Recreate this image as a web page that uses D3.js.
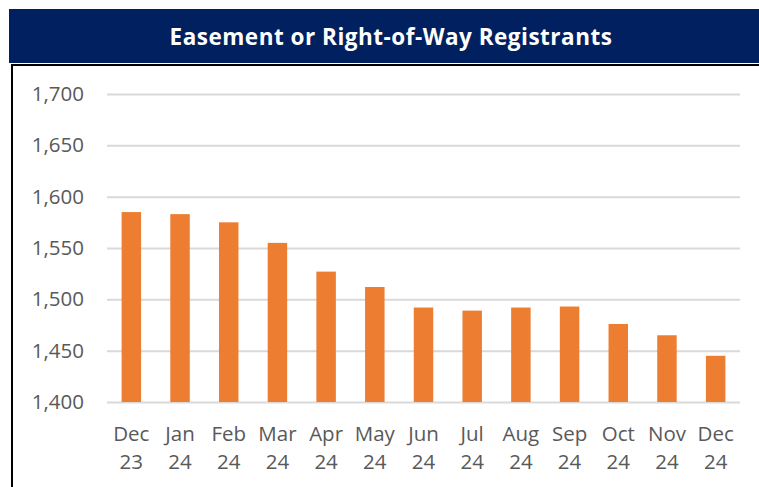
<!DOCTYPE html>
<html>
<head>
<meta charset="utf-8">
<script src="https://cdn.jsdelivr.net/npm/d3@7"></script>
<style>
  body { margin: 0; background: #fff; }
  svg { display: block; }
</style>
</head>
<body>
<div class="graph"></div>
<script>
var title = 'Easement or Right-of-Way Registrants';
var months = ['Dec', 'Jan', 'Feb', 'Mar', 'Apr', 'May', 'Jun', 'Jul', 'Aug', 'Sep', 'Oct', 'Nov', 'Dec'];
var years = ['23', '24', '24', '24', '24', '24', '24', '24', '24', '24', '24', '24', '24'];
var registrants = [1585, 1583, 1575, 1555, 1527, 1512, 1492, 1489, 1492, 1493, 1476, 1465, 1445];
var yTicks = [1400, 1450, 1500, 1550, 1600, 1650, 1700];

var width = 759, height = 487;
var margin = { left: 107, right: 19, top: 94, bottom: 85 };

var svg = d3.select('.graph').append('svg')
    .attr('width', width)
    .attr('height', height);

// header band
svg.append('rect')
    .attr('x', 9).attr('y', 9)
    .attr('width', width - 9).attr('height', 54)
    .attr('fill', '#002060');
svg.append('text')
    .attr('x', 391).attr('y', 45)
    .attr('text-anchor', 'middle')
    .attr('fill', '#fff')
    .style('font-family', 'Open Sans')
    .style('font-weight', 'bold')
    .style('font-size', '22.5px')
    .style('letter-spacing', '0.5px')
    .text(title);

// frame
svg.append('path')
    .attr('d', 'M12,' + height + 'V65H' + width)
    .attr('fill', 'none')
    .attr('stroke', '#000')
    .attr('stroke-width', 2);

var keys = d3.range(months.length);
var x = d3.scaleBand()
    .domain(keys)
    .range([margin.left, width - margin.right])
    .paddingInner(0.6)
    .paddingOuter(0.3);

var y = d3.scaleLinear()
    .domain([1400, 1700])
    .range([height - margin.bottom, margin.top]);

var yAxis = svg.append('g')
    .attr('transform', 'translate(' + margin.left + ',0)')
    .call(d3.axisLeft(y).tickValues(yTicks)
      .tickSize(-(width - margin.left - margin.right))
      .tickPadding(23)
      .tickFormat(d3.format(',')));
yAxis.select('.domain').remove();
yAxis.selectAll('line').attr('stroke', '#d9d9d9').attr('stroke-width', 2);
yAxis.selectAll('text')
    .attr('fill', '#595959')
    .style('font-family', 'Open Sans')
    .style('font-size', '20.5px');

svg.selectAll('rect.bar')
  .data(registrants)
  .enter().append('rect')
    .attr('class', 'bar')
    .attr('x', function (d, i) { return x(i); })
    .attr('width', x.bandwidth())
    .attr('y', function (d) { return y(d); })
    .attr('height', function (d) { return y(1400) - y(d); })
    .attr('fill', '#ed7d31');

var labels = svg.selectAll('text.xlab')
  .data(keys)
  .enter().append('text')
    .attr('class', 'xlab')
    .attr('text-anchor', 'middle')
    .attr('fill', '#595959')
    .style('font-family', 'Open Sans')
    .style('font-size', '20.5px');
labels.append('tspan')
    .attr('x', function (i) { return x(i) + x.bandwidth() / 2; })
    .attr('y', 441)
    .text(function (i) { return months[i]; });
labels.append('tspan')
    .attr('x', function (i) { return x(i) + x.bandwidth() / 2; })
    .attr('y', 469)
    .text(function (i) { return years[i]; });
</script>
</body>
</html>
